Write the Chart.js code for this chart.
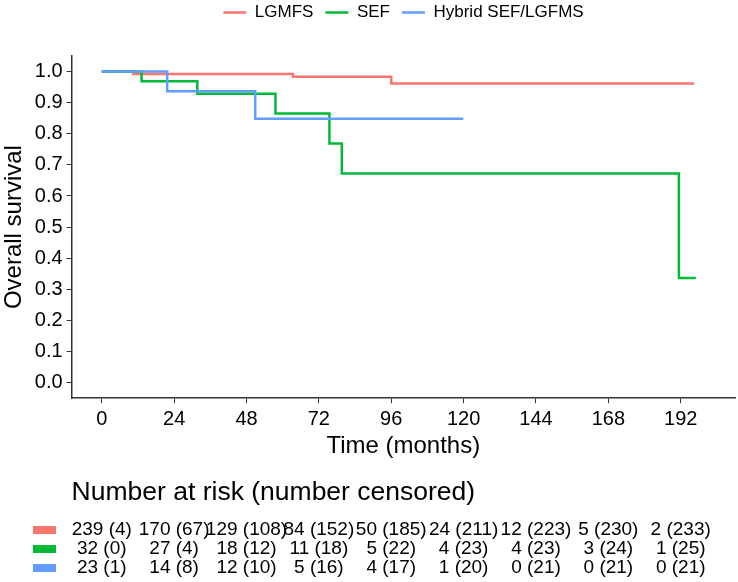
<!DOCTYPE html>
<html>
<head>
<meta charset="utf-8">
<script src="https://cdn.jsdelivr.net/npm/chart.js@4.4.1/dist/chart.umd.min.js"></script>
<style>
  html, body { margin: 0; padding: 0; background: #fff; }
</style>
</head>
<body>
<canvas id="kmChart" width="738" height="582"></canvas>
<script>
const groups = ['LGMFS', 'SEF', 'Hybrid SEF/LGFMS'];
const colors = ['#F8766D', '#00BA38', '#619CFF'];

// Kaplan-Meier steps (time in months, survival after the step)
const lgmfsTime = [0, 10.5, 63.4, 96, 196.5];
const lgmfsSurv = [1, 0.992, 0.983, 0.962, 0.962];
const sefTime = [0, 13.2, 31.7, 57.6, 75.5, 79.6, 191.4, 197];
const sefSurv = [1, 0.969, 0.929, 0.865, 0.769, 0.672, 0.336, 0.336];
const hybridTime = [0, 21.7, 50.9, 119.9];
const hybridSurv = [1, 0.937, 0.848, 0.848];

const xTicks = [0, 24, 48, 72, 96, 120, 144, 168, 192];
const yTicks = [0, 0.1, 0.2, 0.3, 0.4, 0.5, 0.6, 0.7, 0.8, 0.9, 1.0];

// number at risk / number censored at each x tick
const lgmfsRisk = [239, 170, 129, 84, 50, 24, 12, 5, 2];
const lgmfsCens = [4, 67, 108, 152, 185, 211, 223, 230, 233];
const sefRisk = [32, 27, 18, 11, 5, 4, 4, 3, 1];
const sefCens = [0, 4, 12, 18, 22, 23, 23, 24, 25];
const hybridRisk = [23, 14, 12, 5, 4, 1, 0, 0, 0];
const hybridCens = [1, 8, 10, 16, 17, 20, 21, 21, 21];

const fam = '"Liberation Sans", Arial, sans-serif';

function pts(t, s) {
    return t.map((v, i) => ({ x: v, y: s[i] }));
}

const riskRows = [
    { risk: lgmfsRisk, cens: lgmfsCens },
    { risk: sefRisk, cens: sefCens },
    { risk: hybridRisk, cens: hybridCens }
];

const riskTable = {
    id: 'riskTable',
    afterDraw(chart) {
        const ctx = chart.ctx;
        const xs = chart.scales.x;
        ctx.save();
        ctx.textBaseline = 'middle';
        ctx.fillStyle = '#000';
        ctx.textAlign = 'left';
        ctx.font = '26.5px ' + fam;
        ctx.fillText('Number at risk (number censored)', chart.chartArea.left, 493);
        ctx.font = '19px ' + fam;
        ctx.textAlign = 'center';
        riskRows.forEach((row, i) => {
            const y = 530 + i * 19;
            ctx.fillStyle = colors[i];
            ctx.fillRect(33, y - 4, 23, 8);
            ctx.fillStyle = '#000';
            row.risk.forEach((n, j) => {
                ctx.fillText(n + ' (' + row.cens[j] + ')', xs.getPixelForValue(xTicks[j]), y);
            });
        });
        ctx.restore();
    }
};

// nudge the legend so it sits like the original one
const legendShift = {
    id: 'legendShift',
    afterLayout(chart) {
        const lg = chart.legend;
        lg.left += 36;
        lg.right += 36;
        lg.top -= 25;
    }
};

const data = {
    datasets: [{
        label: groups[0],
        data: pts(lgmfsTime, lgmfsSurv),
        borderColor: colors[0],
        backgroundColor: colors[0],
        borderWidth: 2.5,
        order: 3
    }, {
        label: groups[1],
        data: pts(sefTime, sefSurv),
        borderColor: colors[1],
        backgroundColor: colors[1],
        borderWidth: 2.5,
        order: 2
    }, {
        label: groups[2],
        data: pts(hybridTime, hybridSurv),
        borderColor: colors[2],
        backgroundColor: colors[2],
        borderWidth: 2.5,
        order: 1
    }]
};

const config = {
    type: 'line',
    data: data,
    plugins: [riskTable, legendShift],
    options: {
        responsive: false,
        animation: false,
        devicePixelRatio: 1,
        layout: { padding: { top: 17, left: 0, right: 3, bottom: 121 } },
        elements: {
            line: { stepped: 'before', fill: false, tension: 0 },
            point: { radius: 0, hoverRadius: 0 }
        },
        plugins: {
            tooltip: { enabled: false },
            legend: {
                position: 'top',
                labels: {
                    usePointStyle: true,
                    pointStyle: 'line',
                    pointStyleWidth: 23,
                    padding: 12,
                    color: '#000',
                    font: { size: 17, family: fam },
                    sort: (a, b) => a.datasetIndex - b.datasetIndex
                }
            }
        },
        scales: {
            x: {
                type: 'linear',
                min: -10,
                max: 210,
                afterBuildTicks: ax => { ax.ticks = xTicks.map(v => ({ value: v })); },
                ticks: { color: '#000', font: { size: 20, family: fam }, padding: 4, maxRotation: 0 },
                grid: { drawOnChartArea: false, drawTicks: true, tickLength: 5, color: '#333' },
                border: { display: true, color: '#333', width: 1.5 },
                title: { display: true, text: 'Time (months)', color: '#000', font: { size: 24, family: fam }, padding: { top: -3, bottom: 0 } }
            },
            y: {
                type: 'linear',
                min: -0.05,
                max: 1.05,
                afterBuildTicks: ax => { ax.ticks = yTicks.map(v => ({ value: v })); },
                ticks: { color: '#000', font: { size: 20, family: fam }, padding: 4, callback: v => v.toFixed(1) },
                grid: { drawOnChartArea: false, drawTicks: true, tickLength: 5, color: '#333' },
                border: { display: true, color: '#333', width: 1.5 },
                title: { display: true, text: 'Overall survival', color: '#000', font: { size: 24, family: fam }, padding: { top: 0, bottom: 2 } }
            }
        }
    }
};

const kmChart = new Chart(document.getElementById('kmChart'), config);
</script>
</body>
</html>
